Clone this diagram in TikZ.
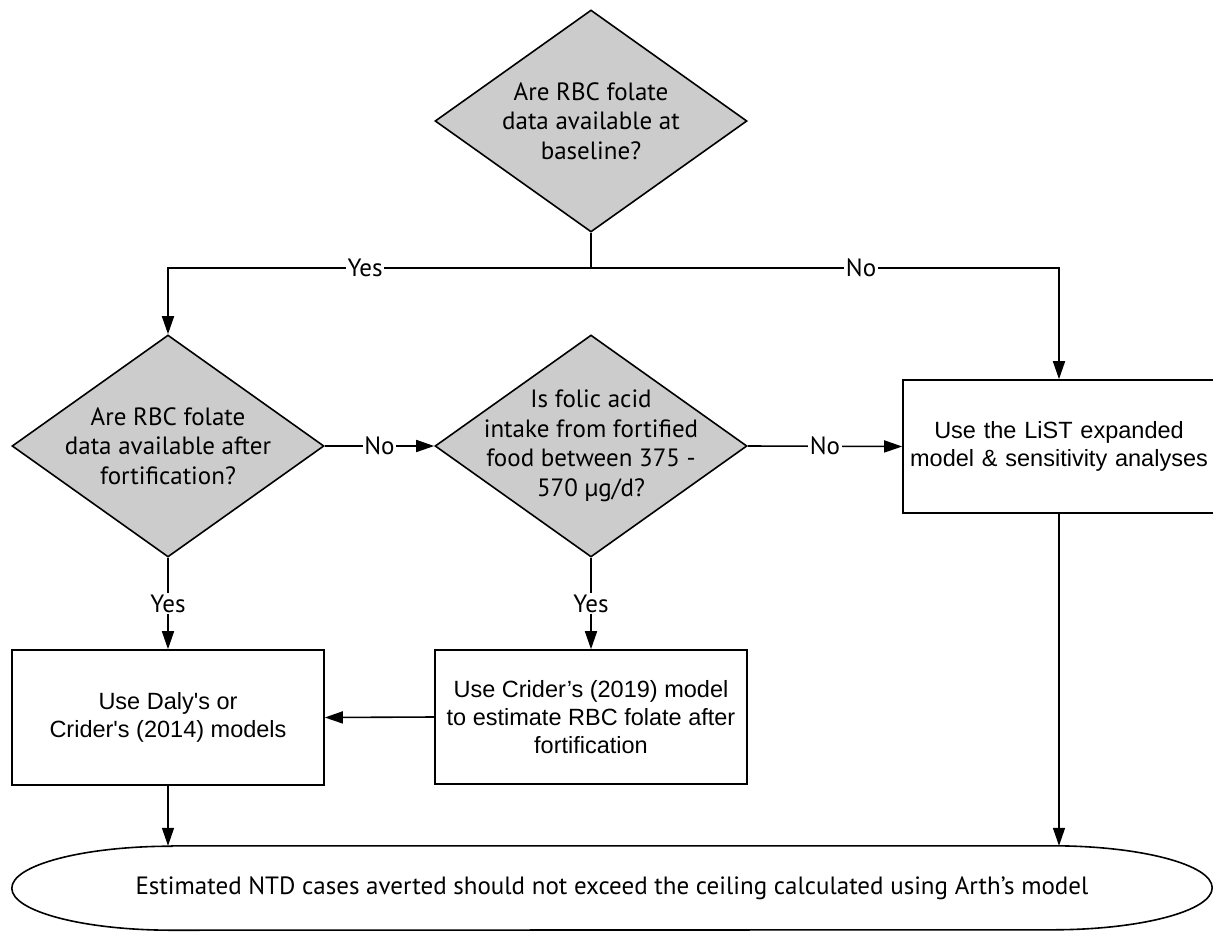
\documentclass[tikz,border=0pt]{standalone}
\usepackage{fontspec}
\setmainfont{PT Sans}
\newfontfamily\arialf{Liberation Sans}
\usetikzlibrary{shapes.geometric,arrows.meta}
\definecolor{dgray}{RGB}{204,204,204}
\tikzset{
  ln/.style={line width=1.6pt, draw=black},
  arr/.style={ln, -{Triangle[length=18pt,width=12pt]}},
  decision/.style={diamond, ln, fill=dgray, aspect=1.4, minimum width=312pt, minimum height=222pt, inner sep=0pt},
  dtext/.style={inner sep=0pt, align=center, font=\fontsize{25}{29.5}\selectfont},
  procbox/.style={rectangle, ln, fill=white, minimum width=312pt, inner sep=0pt, align=center, font=\arialf\fontsize{23.5}{28}\selectfont},
  lbl/.style={fill=white, inner sep=1.5pt, font=\fontsize{25}{28}\selectfont},
}
\begin{document}
\begin{tikzpicture}[x=1pt,y=-1pt]
\useasboundingbox (0,0) rectangle (1213,932);
\fill[white] (0,0) rectangle (1213,932);

\node[decision] (q1) at (591,121) {};
\node[dtext] (q1t) at (q1.center) {Are RBC folate\\data available at\\baseline?};
\node[decision] (q2) at (168,446) {};
\node[dtext] (q2t) at (q2.center) {Are RBC folate\\data available after\\fortification?};
\node[decision] (q3) at (591,446) {};
\node[dtext] (q3t) at (q3.center) {Is folic acid\\intake from fortified\\food between 375 -\\570 µg/d?};
\node[procbox, minimum width=312pt, minimum height=133pt, text width=310pt] (list) at (1059,446.5) {Use the LiST expanded\\model \& sensitivity analyses};
\node[procbox, minimum height=135pt] (daly) at (168,717.5) {Use Daly\symbol{39}s or\\Crider\symbol{39}s (2014) models};
\node[procbox, minimum height=134pt] (crider) at (591,717) {Use Crider’s (2019) model\\to estimate RBC folate after\\fortification};
\node[rectangle, minimum width=1200pt, minimum height=84pt, inner sep=0pt, font=\fontsize{25}{28}\selectfont] (term) at (612,888) {Estimated NTD cases averted should not exceed the ceiling calculated using Arth’s model};
\draw[ln] ([xshift=160pt]term.north west) -- ([xshift=-160pt]term.north east)
  arc[start angle=90, end angle=-90, x radius=160pt, y radius=42pt]
  -- ([xshift=160pt]term.south west)
  arc[start angle=270, end angle=90, x radius=160pt, y radius=42pt] -- cycle;

\coordinate (split) at (591,268);
\draw[ln] (q1.south) -- (split);
\draw[arr] (split) -- node[lbl, pos=0.534]{Yes} (split -| q2.north) -- (q2.north);
\draw[arr] (split) -- node[lbl, pos=0.577]{No} (split -| list.north) -- (list.north);
\draw[arr] (q2.east) -- node[lbl]{No} (q3.west);
\draw[arr] (q3.east) -- node[lbl]{No} (list.west);
\draw[arr] (q2.south) -- node[lbl]{Yes} (daly.north);
\draw[arr] (q3.south) -- node[lbl]{Yes} (crider.north);
\draw[arr] (crider.west) -- (daly.east);
\draw[arr] (daly.south) -- (daly.south |- term.north);
\draw[arr] (list.south) -- (list.south |- term.north);
\end{tikzpicture}
\end{document}
